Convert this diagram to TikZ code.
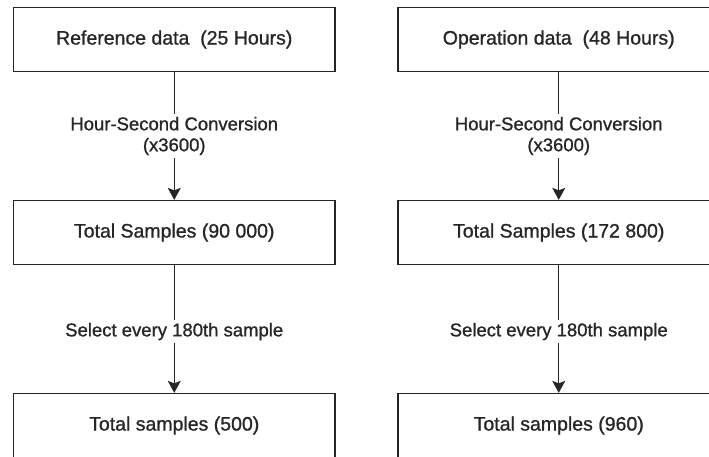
\documentclass[tikz,border=0pt]{standalone}
\usepackage{fontspec}
\setmainfont{Liberation Sans}
\newfontfamily\diagfont{Liberation Sans}[FakeBold=1.0]
\usetikzlibrary{arrows.meta}
\definecolor{ink}{HTML}{262626}
\tikzset{
  stagebox/.style={draw=ink, line width=1.3pt, rectangle, minimum width=321.5pt,
    minimum height=64pt, inner sep=0pt, text=ink,
    font=\diagfont\fontsize{19.5}{22}\selectfont},
  flow/.style={draw=ink, line width=1.3pt,
    -{Stealth[length=12pt, width=13pt, inset=2.5pt]}},
  steplabel/.style={fill=white, text=ink, inner sep=2.5pt, align=center,
    font=\diagfont\fontsize{18.5}{21}\selectfont},
}
\begin{document}
\begin{tikzpicture}[x=1pt, y=-1pt]
  \useasboundingbox (0,0) rectangle (709,456);
  \clip (0,0) rectangle (709,456);

  % left column: reference data
  \node[stagebox] (ra) at (174.25,39.5) {Reference data\ \ (25 Hours)};
  \node[stagebox] (rb) at (174.25,232.5) {Total Samples (90 000)};
  \node[stagebox] (rc) at (174.25,425.5) {Total samples (500)};

  % right column: operation data
  \node[stagebox] (oa) at (558.75,39.5) {Operation data\ \ (48 Hours)};
  \node[stagebox] (ob) at (558.75,232.5) {Total Samples (172 800)};
  \node[stagebox] (oc) at (558.75,425.5) {Total samples (960)};

  % conversion steps
  \draw[flow] (ra.south) -- node[steplabel] {Hour-Second Conversion\\(x3600)} (rb.north);
  \draw[flow] (rb.south) -- node[steplabel, pos=0.52] {Select every 180th sample} (rc.north);
  \draw[flow] (oa.south) -- node[steplabel] {Hour-Second Conversion\\(x3600)} (ob.north);
  \draw[flow] (ob.south) -- node[steplabel, pos=0.52] {Select every 180th sample} (oc.north);
\end{tikzpicture}
\end{document}
